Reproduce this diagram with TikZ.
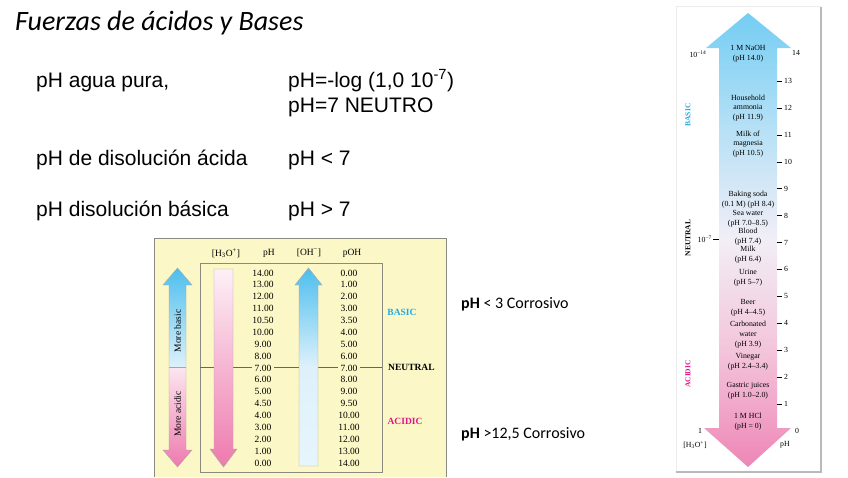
\documentclass[tikz,border=0pt]{standalone}
\usepackage{fontspec}
\setmainfont{Liberation Serif}
\newfontfamily\arialf{Liberation Sans}
\newfontfamily\calf{Carlito}
\definecolor{tblyellow}{HTML}{FCF7C6}
\definecolor{tblborder}{HTML}{8A8A80}
\definecolor{abl}{HTML}{4DBEEE}
\definecolor{ablmid}{HTML}{DDF1FB}
\definecolor{apk}{HTML}{EE7AAE}
\definecolor{apkmid}{HTML}{FCE6F0}
\definecolor{sclblue}{HTML}{74CDF3}
\definecolor{sclblue2}{HTML}{B5E0F6}
\definecolor{sclmid}{HTML}{F2EEF6}
\definecolor{sclpink2}{HTML}{F3C3DA}
\definecolor{sclpink}{HTML}{EE86B6}
\definecolor{basicblue}{HTML}{22A8E4}
\definecolor{acidmag}{HTML}{E4148A}
\begin{document}
\begin{tikzpicture}[x=1pt,y=-1pt,
  bodytxt/.style={anchor=base west, inner sep=0pt, font=\arialf\fontsize{21}{25}\selectfont},
  corrtxt/.style={anchor=base west, inner sep=0pt, font=\calf\fontsize{16}{19}\selectfont},
  tblnum/.style={inner ysep=0.5pt, inner xsep=2.5pt, fill=tblyellow, font=\fontsize{9.5}{11}\selectfont},
  tblhead/.style={inner sep=0pt, font=\fontsize{9.5}{11}\selectfont},
  tbllbl/.style={inner sep=0pt, font=\bfseries\fontsize{9.5}{11}\selectfont},
  vlbl/.style={inner sep=0pt, rotate=90, font=\fontsize{9.5}{11}\selectfont},
  sclbl/.style={inner sep=0pt, align=center, font=\fontsize{7.8}{9.8}\selectfont},
  scnum/.style={inner sep=0pt, font=\fontsize{7.8}{9}\selectfont},
  scside/.style={inner sep=0pt, rotate=90, font=\bfseries\fontsize{7.5}{9}\selectfont},
  arrline/.style={draw=gray!70, line width=0.4pt}
]
\useasboundingbox (0,0) rectangle (848,477);
\fill[white] (0,0) rectangle (848,477);

% ---------- top texts ----------
\node[anchor=base west, inner sep=0pt, font=\calf\itshape\fontsize{28}{33}\selectfont] (title) at (15,30) {Fuerzas de ácidos y Bases};
\node[bodytxt] (t1) at (36,87) {pH agua pura,};
\node[bodytxt] (t2) at (288,87) {pH=-log (1,0 10\textsuperscript{-7})};
\node[bodytxt] (t3) at (288,112) {pH=7 NEUTRO};
\node[bodytxt] (t4) at (36,165) {pH de disolución ácida};
\node[bodytxt] (t5) at (288,165) {pH < 7};
\node[bodytxt] (t6) at (36,216) {pH disolución básica};
\node[bodytxt] (t7) at (288,216) {pH > 7};

\node[corrtxt] (c1) at (461,308) {\textbf{pH} < 3 Corrosivo};
\node[corrtxt] (c2) at (461,438) {\textbf{pH} >12,5 Corrosivo};

% ---------- table ----------
\fill[tblyellow] (154,238) rectangle (446,477);
\draw[tblborder, line width=0.6pt] (154,477) -- (154,238) -- (446,238) -- (446,477);
\draw[tblborder, line width=0.6pt] (200,263) rectangle (382,472);
\draw[gray!80!black, line width=0.5pt] (200,367) -- (382,367);

% left double arrow
\shade[top color=abl, bottom color=ablmid] (177.5,268) -- (192,285) -- (186,285) -- (186,367) -- (169,367) -- (169,285) -- (163,285) -- cycle;
\shade[top color=apkmid, bottom color=apk] (169,367) -- (186,367) -- (186,450) -- (192,450) -- (177.5,467) -- (163,450) -- (169,450) -- cycle;
\draw[arrline] (177.5,268) -- (192,285) -- (186,285) -- (186,450) -- (192,450) -- (177.5,467) -- (163,450) -- (169,450) -- (169,285) -- (163,285) -- cycle;
\draw[arrline] (169,367) -- (186,367);
\node[vlbl] (mb) at (177.5,331) {More basic};
\node[vlbl] (ma) at (177.5,414) {More acidic};

% H3O+ arrow
\shade[top color=apkmid!60!white, bottom color=apk, arrline] (214,269) -- (233,269) -- (233,449) -- (237,449) -- (223.5,467) -- (210,449) -- (214,449) -- cycle;

% OH- arrow
\shade[top color=abl, bottom color=ablmid!70!white, middle color=ablmid, arrline] (308.5,268) -- (322,285) -- (318,285) -- (318,466) -- (299,466) -- (299,285) -- (295,285) -- cycle;

% headers
\node[tblhead] (h1) at (226,253) {[H\textsubscript{3}O\textsuperscript{+}]};
\node[tblhead] (h2) at (269,253) {pH};
\node[tblhead] (h3) at (309,253) {[OH\textsuperscript{−}]};
\node[tblhead] (h4) at (352,253) {pOH};

\foreach \v [count=\i from 0] in {14.00,13.00,12.00,11.00,10.50,10.00,9.00,8.00,7.00,6.00,5.00,4.50,4.00,3.00,2.00,1.00,0.00}
  \node[tblnum] (ph\i) at (263,{273+\i*11.875}) {\v};
\foreach \v [count=\i from 0] in {0.00,1.00,2.00,3.00,3.50,4.00,5.00,6.00,7.00,8.00,9.00,9.50,10.00,11.00,12.00,13.00,14.00}
  \node[tblnum] (poh\i) at (349,{273+\i*11.875}) {\v};

\node[tbllbl, anchor=west] (neu) at (388,367) {NEUTRAL};
\node[tbllbl, text=basicblue] (bas) at (402,312) {BASIC};
\node[tbllbl, text=acidmag] (aci) at (405,421) {ACIDIC};

% ---------- right scale ----------
\draw[gray!15, line width=0.5pt] (676,472) -- (676,6) -- (821,6);
\draw[gray!55, line width=2.2pt] (821,7) -- (821,472) -- (676,472);

\shade[top color=sclblue, bottom color=sclmid, middle color=sclblue2] (748,13) -- (791,48) -- (777,48) -- (777,240.5) -- (719,240.5) -- (719,48) -- (706,48) -- cycle;
\shade[top color=sclmid, bottom color=sclpink, middle color=sclpink2] (719,240) -- (777,240) -- (777,428) -- (791,428) -- (748,467) -- (704,428) -- (719,428) -- cycle;

\foreach \n in {1,...,13}
  \draw[line width=0.4pt] (777,{431-\n*26.93}) -- ++(5,0) node[scnum, anchor=west, xshift=2pt] (tk\n) {\n};
\node[scnum, anchor=west] (tk14) at (792,53) {14};
\node[scnum, anchor=west] (tk0) at (795,431) {0};

\node[scnum] (l14) at (698,54) {10\textsuperscript{−14}};
\node[scnum, anchor=east] (l7) at (712,239) {10\textsuperscript{−7}};
\draw[line width=0.4pt] (l7.east) ++(1,0) -- (719,239);
\node[scnum] (l0) at (700,431) {1};
\node[scnum] (lh) at (695,445) {[H\textsubscript{3}O\textsuperscript{+}]};
\node[scnum] (lp) at (785,445) {pH};

\node[scside, text=basicblue] (sb) at (688,115) {BASIC};
\node[scside] (sn) at (688,238) {NEUTRAL};
\node[scside, text=acidmag] (sa) at (688,374) {ACIDIC};

\node[sclbl] (s1) at (748,53.5) {1 M NaOH\\(pH 14.0)};
\node[sclbl] (s2) at (748,108) {Household\\ammonia\\(pH 11.9)};
\node[sclbl] (s3) at (748,144) {Milk of\\magnesia\\(pH 10.5)};
\node[sclbl] (s4) at (748,200) {Baking soda\\(0.1 M) (pH 8.4)};
\node[sclbl] (s5) at (748,218.5) {Sea water\\(pH 7.0–8.5)};
\node[sclbl] (s6) at (748,236.5) {Blood\\(pH 7.4)};
\node[sclbl] (s7) at (748,255) {Milk\\(pH 6.4)};
\node[sclbl] (s8) at (748,278) {Urine\\(pH 5–7)};
\node[sclbl] (s9) at (748,308) {Beer\\(pH 4–4.5)};
\node[sclbl] (s10) at (748,334.5) {Carbonated\\water\\(pH 3.9)};
\node[sclbl] (s11) at (748,361.5) {Vinegar\\(pH 2.4–3.4)};
\node[sclbl] (s12) at (748,391) {Gastric juices\\(pH 1.0–2.0)};
\node[sclbl] (s13) at (748,422) {1 M HCl\\(pH = 0)};
\end{tikzpicture}
\end{document}
